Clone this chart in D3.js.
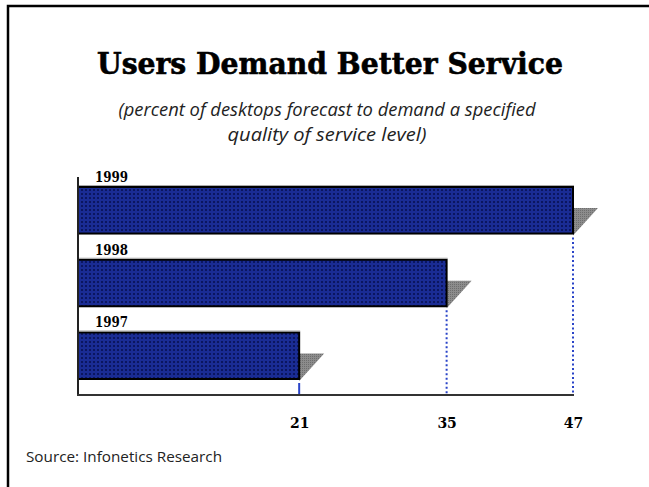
<!DOCTYPE html>
<html><head><meta charset="utf-8">
<script src="https://cdn.jsdelivr.net/npm/d3@7"></script>
<style>body{margin:0;background:#fff}svg{display:block}</style>
</head><body>
<script>
const categories = ["1999", "1998", "1997"];
const values = [47, 35, 21];
const tickValues = [21, 35, 47];
const title = "Users Demand Better Service";
const subtitle = ["(percent of desktops forecast to demand a specified", "quality of service level)"];
const source = "Source: Infonetics Research";

const W = 649, H = 487;
const svg = d3.select("body").append("svg").attr("width", W).attr("height", H);

const defs = svg.append("defs");
const pat = defs.append("pattern").attr("id", "dots").attr("patternUnits", "userSpaceOnUse")
  .attr("width", 4).attr("height", 4);
pat.append("rect").attr("width", 4).attr("height", 4).attr("fill", "#1a2c94");
pat.append("rect").attr("x", 1).attr("y", 1).attr("width", 2).attr("height", 2).attr("fill", "#0b1660");
const gp = defs.append("pattern").attr("id", "gdots").attr("patternUnits", "userSpaceOnUse")
  .attr("width", 2).attr("height", 2);
gp.append("rect").attr("width", 2).attr("height", 2).attr("fill", "#8c8c8c");
gp.append("rect").attr("width", 1).attr("height", 1).attr("fill", "#6e6e6e");

// slide frame
svg.append("path").attr("d", `M8,${H} V6 H${W}`).attr("fill", "none").attr("stroke", "#000").attr("stroke-width", 2.5);

// title
svg.append("text").attr("x", 330).attr("y", 74).attr("text-anchor", "middle")
  .attr("font-family", "DejaVu Serif").attr("font-weight", "bold").attr("font-size", 29)
  .attr("textLength", 466).attr("lengthAdjust", "spacingAndGlyphs").attr("fill", "#000")
  .attr("stroke", "#000").attr("stroke-width", 0.6).text(title);
subtitle.forEach((s, i) => {
  svg.append("text").attr("x", 327).attr("y", 116 + i * 25).attr("text-anchor", "middle")
    .attr("font-family", "Open Sans").attr("font-style", "italic").attr("font-weight", 400)
    .attr("font-size", 18).attr("textLength", i === 0 ? 417 : 199).attr("lengthAdjust", "spacingAndGlyphs")
    .attr("fill", "#222").text(s);
});

// scales
const x = d3.scaleLinear().domain([0, 47]).range([78, 573]);
const y = d3.scaleBand().domain(categories).range([187, 379]).paddingInner(0.36).paddingOuter(0);
const bh = y.bandwidth();

const g = svg.append("g");

// shadows
categories.forEach((c, i) => {
  const r = x(values[i]), t = y(c), b = t + bh;
  g.append("polygon").attr("points", `${r},${t + 21} ${r + 25},${t + 21} ${r},${b + 2}`)
    .attr("fill", "url(#gdots)");
});

// dotted guide lines
categories.forEach((c, i) => {
  const r = x(values[i]);
  g.append("line").attr("x1", r).attr("x2", r).attr("y1", values[i] === 21 ? 383 : y(c) + bh + 4).attr("y2", 395)
    .attr("stroke", "#2a44c8").attr("stroke-width", 2).attr("stroke-dasharray", values[i] === 21 ? null : "2,2.5");
});

// bars
categories.forEach((c, i) => {
  g.append("rect").attr("x", x(0)).attr("y", y(c)).attr("width", x(values[i]) - x(0)).attr("height", bh)
    .attr("fill", "url(#dots)").attr("stroke", "#000").attr("stroke-width", 2);
  g.append("line").attr("x1", x(0)).attr("x2", x(values[i]) + 1).attr("y1", y(c) - 1.5).attr("y2", y(c) - 1.5)
    .attr("stroke", "#aaa").attr("stroke-width", 1);
  g.append("text").attr("x", 95).attr("y", y(c) - 5)
    .attr("font-family", "DejaVu Serif").attr("font-weight", "bold").attr("font-size", 14)
    .attr("textLength", 33).attr("lengthAdjust", "spacingAndGlyphs").attr("fill", "#000").text(c);
});

// axes frame
g.append("line").attr("x1", 78).attr("x2", 78).attr("y1", 177).attr("y2", 396).attr("stroke", "#222").attr("stroke-width", 2);
g.append("line").attr("x1", 77).attr("x2", x(47) + 1).attr("y1", 395).attr("y2", 395).attr("stroke", "#333").attr("stroke-width", 2);

// tick labels via axis
const ax = svg.append("g").attr("transform", "translate(0,395)")
  .call(d3.axisBottom(x).tickValues(tickValues).tickSize(0).tickPadding(23).tickFormat(d3.format("d")));
ax.select(".domain").remove();
ax.selectAll("text").attr("font-family", "DejaVu Serif").attr("font-weight", "bold").attr("font-size", 14).attr("fill", "#000");

svg.append("text").attr("x", 26).attr("y", 462).attr("font-family", "Open Sans").attr("font-weight", 400)
  .attr("font-size", 14).attr("textLength", 196).attr("lengthAdjust", "spacingAndGlyphs")
  .attr("fill", "#222").text(source);
</script>
</body></html>
